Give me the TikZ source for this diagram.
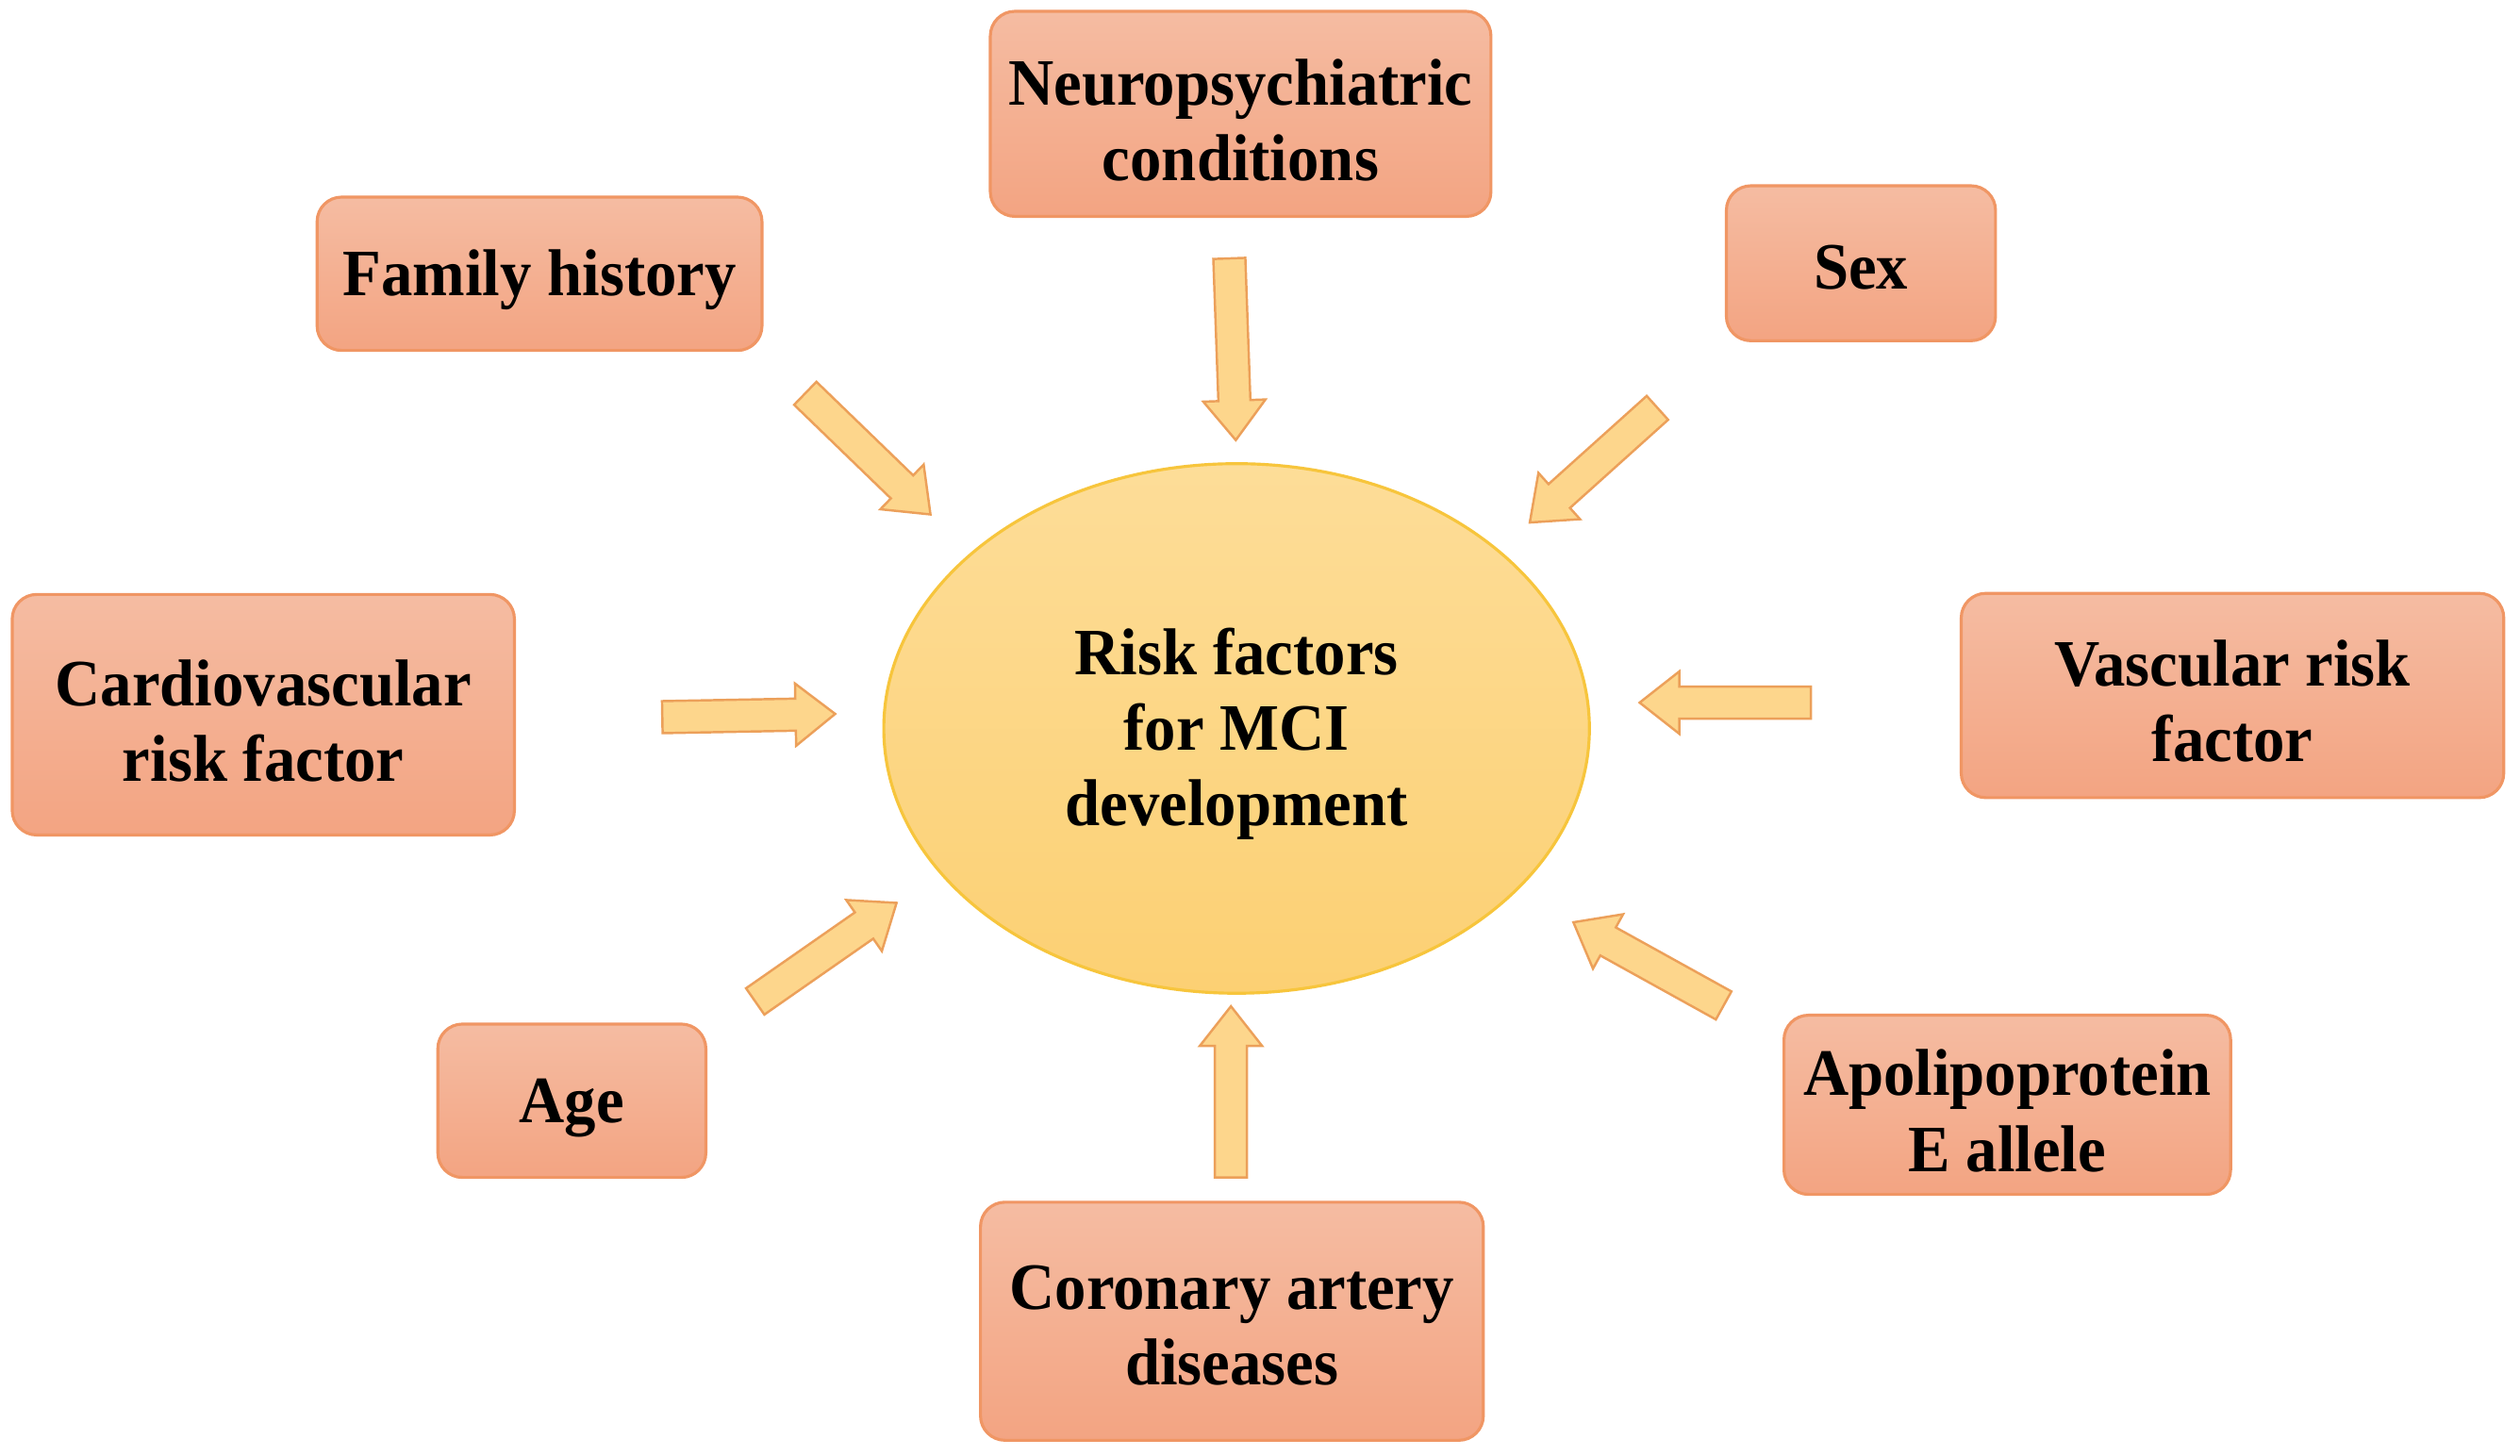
\documentclass[tikz,border=0pt]{standalone}
\usepackage{fontspec}
\setmainfont{Liberation Serif}[FakeStretch=0.95]
\usetikzlibrary{shapes.geometric,calc}
\definecolor{boxtop}{RGB}{245,188,162}
\definecolor{boxbot}{RGB}{243,164,130}
\definecolor{boxline}{RGB}{240,150,100}
\definecolor{elltop}{RGB}{253,221,152}
\definecolor{ellbot}{RGB}{252,208,115}
\definecolor{ellline}{RGB}{247,197,60}
\definecolor{arrfill}{RGB}{253,214,140}
\definecolor{arrline}{RGB}{236,160,90}
\newcommand\topstrut{\rule{0pt}{17.5pt}}
\tikzset{
  labeltext/.style={inner sep=0pt, align=center,
    font=\fontsize{20pt}{22.8pt}\selectfont\bfseries},
  factor/.style={labeltext, rectangle, rounded corners=0.26cm, draw=boxline,
    line width=0.9pt, top color=boxtop, bottom color=boxbot},
  centre/.style={labeltext, ellipse, draw=ellline, line width=0.9pt,
    top color=elltop, bottom color=ellbot,
    minimum width=7.485cm, minimum height=5.618cm},
  blockarr/.style={draw=arrline, fill=arrfill, line width=0.7pt, line join=miter}
}
\newcommand\blockarrow[2]{%
  \path ($(#2)!0.42cm!(#1)$) coordinate (hb);
  \draw[blockarr] ($(#1)!0.17cm!90:(#2)$) -- ($(hb)!0.17cm!90:(#2)$)
    -- ($(hb)!0.33cm!90:(#2)$) -- (#2) -- ($(hb)!0.33cm!-90:(#2)$)
    -- ($(hb)!0.17cm!-90:(#2)$) -- ($(#1)!0.17cm!-90:(#2)$) -- cycle;}
\begin{document}
\begin{tikzpicture}[x=0.017128cm, y=-0.017128cm]
\useasboundingbox[fill=white] (0,0) rectangle (1560,901.4);

\node[centre] (mci) at (765.5,451) {\topstrut Risk factors\\for MCI\\development};

\node[factor, minimum width=5.31cm, minimum height=2.175cm] (neuro) at (768,70.5) {\topstrut Neuropsychiatric\\conditions};
\node[factor, minimum width=4.719cm, minimum height=1.627cm] (family) at (334,169.5) {\topstrut Family history};
\node[factor, minimum width=2.855cm, minimum height=1.644cm] (sex) at (1152,163) {\rule{0pt}{16pt}Sex};
\node[factor, minimum width=5.327cm, minimum height=2.552cm] (cardio) at (163,442.5) {\topstrut Cardiovascular\\risk factor};
\node[factor, minimum width=5.755cm, minimum height=2.167cm] (vasc) at (1382,430.6) {\topstrut Vascular risk\\factor};
\node[factor, minimum width=2.843cm, minimum height=1.627cm] (age) at (354,681.5) {\topstrut Age};
\node[factor, minimum width=4.738cm, minimum height=1.901cm] (apo) at (1242.6,684) {\topstrut Apolipoprotein\\E allele};
\node[factor, minimum width=5.334cm, minimum height=2.526cm] (coron) at (762.6,818) {\rule{0pt}{16pt}Coronary artery\\diseases};

\coordinate (neuroT) at (761,160);   \coordinate (neuroH) at (765,272.5);
\coordinate (familyT) at (498.5,243.5); \coordinate (familyH) at (576,318.5);
\coordinate (sexT) at (1026,252.5);  \coordinate (sexH) at (947,323.5);
\coordinate (cardioT) at (410,444);  \coordinate (cardioH) at (517,442);
\coordinate (vascT) at (1121,435);   \coordinate (vascH) at (1015,435);
\coordinate (ageT) at (467.5,620);   \coordinate (ageH) at (555,559);
\coordinate (apoT) at (1067,622.5);  \coordinate (apoH) at (974,571);
\coordinate (coronT) at (762,729);   \coordinate (coronH) at (762,623);

\blockarrow{neuroT}{neuroH}
\blockarrow{familyT}{familyH}
\blockarrow{sexT}{sexH}
\blockarrow{cardioT}{cardioH}
\blockarrow{vascT}{vascH}
\blockarrow{ageT}{ageH}
\blockarrow{apoT}{apoH}
\blockarrow{coronT}{coronH}
\end{tikzpicture}
\end{document}
